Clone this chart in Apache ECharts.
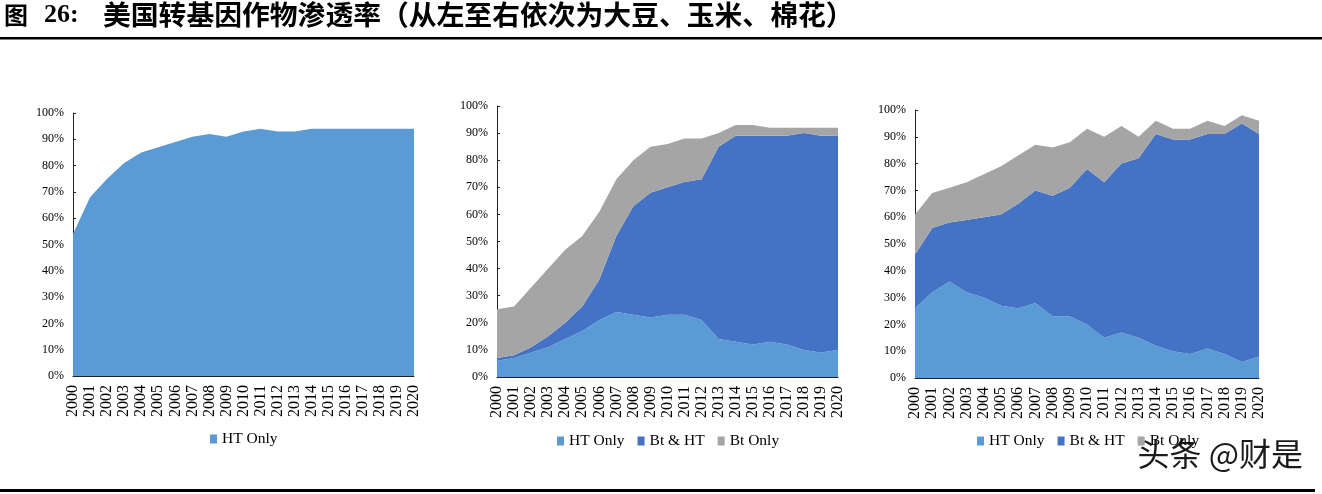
<!DOCTYPE html>
<html>
<head>
<meta charset="utf-8">
<script src="https://cdn.jsdelivr.net/npm/echarts@6/dist/echarts.min.js"></script>
<style>
html,body{margin:0;padding:0;background:#fff;}
#c{width:1322px;height:494px;}
</style>
</head>
<body>
<div id="c"></div>
<script>
const years = ['2000','2001','2002','2003','2004','2005','2006','2007','2008','2009','2010','2011','2012','2013','2014','2015','2016','2017','2018','2019','2020'];
const yTicks = [0,10,20,30,40,50,60,70,80,90,100];
// Soybean
const soyHT = [54,68,75,81,85,87,89,91,92,91,93,94,93,93,94,94,94,94,94,94,94];
// Corn
const cornHT = [6,7,9,11,14,17,21,24,23,22,23,23,21,14,13,12,13,12,10,9,10];
const cornBtHT = [1,1,2,4,6,9,15,28,40,46,47,49,52,71,76,77,76,77,80,80,79];
const cornBt = [18,18,22,25,27,26,25,21,17,17,16,16,15,5,4,4,3,3,2,3,3];
// Cotton
const cottonHT = [26,32,36,32,30,27,26,28,23,23,20,15,17,15,12,10,9,11,9,6,8];
const cottonBtHT = [20,24,22,27,30,34,39,42,45,48,58,58,63,67,79,79,80,80,82,89,83];
const cottonBt = [15,13,13,14,16,18,18,17,18,17,15,17,14,8,5,4,4,5,3,3,5];

const C_HT = '#5B9BD5', C_BTHT = '#4472C4', C_BT = '#A5A5A5';
const serif = '"Liberation Serif","Times New Roman",serif';

const grids = [
  {left:73, top:113, width:341, height:263},
  {left:497, top:106, width:341, height:271},
  {left:915, top:110, width:344, height:268}
];

function xAx(i){
  return {type:'category', gridIndex:i, data:years, boundaryGap:false,
    axisLine:{lineStyle:{color:'#222', width:1}},
    axisTick:{show:false},
    axisLabel:{rotate:90, fontFamily:serif, fontSize:16, color:'#000', margin:9, interval:0}};
}
function yAx(i){
  return {type:'value', gridIndex:i, min:0, max:100, interval:10,
    splitLine:{show:false},
    axisLine:{show:true, lineStyle:{color:'#222', width:1}},
    axisTick:{show:true, inside:true, length:3, lineStyle:{color:'#222'}},
    axisLabel:{formatter:'{value}%', fontFamily:serif, fontSize:12, color:'#000', margin:9}};
}
function area(name, data, color, i, stack){
  return {name:name, type:'line', xAxisIndex:i, yAxisIndex:i, stack:stack, data:data,
    symbol:'none', lineStyle:{width:0, color:color}, itemStyle:{color:color},
    areaStyle:{color:color, opacity:1}, z:2};
}
const legendText = {fontFamily:serif, fontSize:15.5, color:'#000'};
function leg(left, top, names){
  return {left:left, top:top, itemWidth:7, itemHeight:9, itemGap:13, icon:'rect',
    data:names, textStyle:legendText, selectedMode:false};
}

const chart = echarts.init(document.getElementById('c'), null, {renderer:'canvas'});
chart.setOption({
  animation:false,
  backgroundColor:'#fff',
  grid:grids,
  xAxis:[xAx(0),xAx(1),xAx(2)],
  yAxis:[yAx(0),yAx(1),yAx(2)],
  legend:[
    leg(205, 426, ['HT Only']),
    leg(552, 428, ['HT Only','Bt & HT','Bt Only']),
    leg(972, 428, ['HT Only','Bt & HT','Bt Only'])
  ],
  series:[
    area('HT Only', soyHT, C_HT, 0, 's0'),
    area('HT Only', cornHT, C_HT, 1, 's1'),
    area('Bt & HT', cornBtHT, C_BTHT, 1, 's1'),
    area('Bt Only', cornBt, C_BT, 1, 's1'),
    area('HT Only', cottonHT, C_HT, 2, 's2'),
    area('Bt & HT', cottonBtHT, C_BTHT, 2, 's2'),
    area('Bt Only', cottonBt, C_BT, 2, 's2')
  ],
  graphic:[
    {type:'text', left:4, top:3, style:{text:'图', font:'bold 24px "Noto Sans CJK SC"', fill:'#000'}},
    {type:'text', left:44, top:2, style:{text:'26:', font:'bold 26px "Liberation Serif"', fill:'#000'}},
    {type:'text', left:103, top:1, style:{text:'美国转基因作物渗透率（从左至右依次为大豆、玉米、棉花）', font:'bold 27.8px "Noto Sans CJK SC"', fill:'#000'}},
    {type:'rect', shape:{x:0, y:37, width:1322, height:2.5}, style:{fill:'#000'}},
    {type:'rect', shape:{x:0, y:489, width:1315, height:3}, style:{fill:'#000'}},
    {type:'text', left:1137, top:437, style:{text:'头条 @财是', font:'32px "Noto Sans CJK SC"', fill:'#1a1a1a', stroke:'#fff', lineWidth:1, shadowColor:'rgba(0,0,0,0.5)', shadowBlur:2, shadowOffsetX:1, shadowOffsetY:1}}
  ]
});
</script>
</body>
</html>
